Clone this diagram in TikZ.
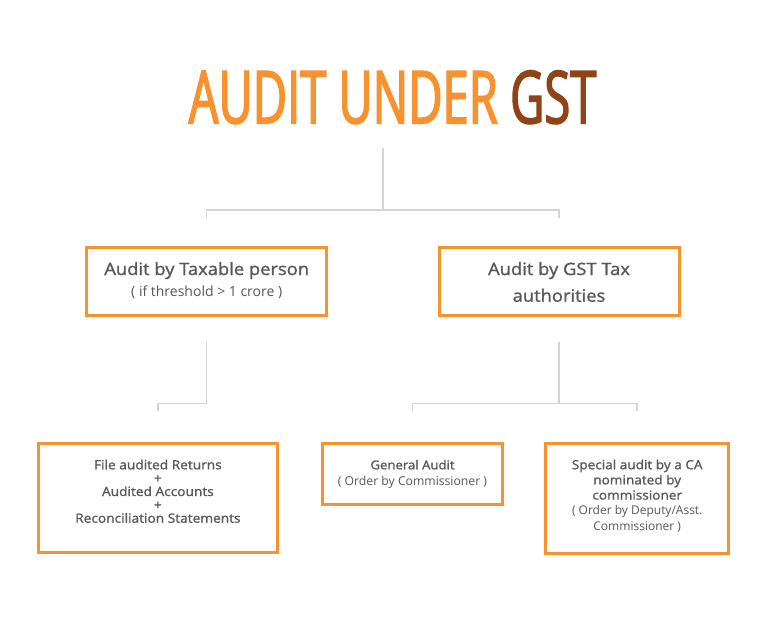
\documentclass[tikz,border=0pt]{standalone}
\usepackage{fontspec}
\setmainfont{Open Sans}
\newfontfamily\semib[FakeBold=1.2,FakeStretch=1.08]{Open Sans}
\newfontfamily\titlefont[FakeStretch=0.645,FakeBold=2]{Open Sans}
\usetikzlibrary{calc}
\definecolor{ttlorange}{HTML}{F7922F}
\definecolor{ttlbrown}{HTML}{8E4414}
\definecolor{boxorange}{HTML}{F7922F}
\definecolor{txtgray}{HTML}{575757}
\definecolor{linegray}{HTML}{D4D4D4}
\begin{document}
\begin{tikzpicture}[x=1pt,y=-1pt,
  box/.style={draw=boxorange,line width=3pt,fill=white,rectangle,inner sep=0pt},
  conn/.style={draw=linegray,line width=1.5pt},
  txt/.style={text=txtgray,inner sep=0pt,align=center}]
\fill[white] (0,0) rectangle (768,624);
\useasboundingbox (0,0) rectangle (768,624);
% title
\node[anchor=base,inner sep=0pt] (title) at (392.5,123.3)
  {\titlefont\fontsize{73}{73}\selectfont\textcolor{ttlorange}{AUDIT UNDER }\textcolor{ttlbrown}{GST}};
% boxes
\node[box,minimum width=240pt,minimum height=68pt] (b1) at (206.7,281.3) {};
\node[box,minimum width=240pt,minimum height=68pt] (b2) at (559,281.3) {};
\node[box,minimum width=239pt,minimum height=109pt] (b3) at (157.9,497.9) {};
\node[box,minimum width=180pt,minimum height=61pt] (b4) at (412.5,473.9) {};
\node[box,minimum width=183pt,minimum height=110pt] (b5) at (637.2,498.6) {};
% texts (base anchor = baseline of the last line)
\node[txt,anchor=base,font=\fontsize{14}{21}\selectfont] (t1) at (206.7,296)
  {{\semib\fontsize{17}{21}\selectfont Audit by Taxable person}\\( if threshold > 1 crore )};
\node[txt,anchor=base,font=\semib\fontsize{17}{26.7}\selectfont] (t2) at (559,301.7)
  {Audit by GST Tax\\authorities};
\node[txt,anchor=base,font=\semib\fontsize{12.7}{13.35}\selectfont] (t3) at (157.9,522.7)
  {File audited Returns\\+\\Audited Accounts\\+\\Reconciliation Statements};
\node[txt,anchor=base,font=\fontsize{12.2}{15.7}\selectfont] (t4) at (412.5,485)
  {{\semib\fontsize{12.2}{15.7}\selectfont General Audit}\\( Order by Commissioner )};
\node[txt,anchor=base,font=\fontsize{12}{15.2}\selectfont] (t5) at (637.2,530)
  {{\semib\fontsize{12.6}{15.2}\selectfont Special audit by a CA}\\{\semib\fontsize{12.6}{15.2}\selectfont nominated by}\\{\semib\fontsize{12.6}{15.2}\selectfont commissioner}\\( Order by Deputy/Asst.\\Commissioner )};
% connectors
\coordinate (top) at (383,148);
\coordinate (j1) at (383,210);
\draw[conn] (top) -- (j1);
\draw[conn] ($(b1.north)+(0,-27.5)$) |- (j1) -| ($(b2.north)+(0,-27.5)$);
\coordinate (j2) at ($(b1.south)+(0,86.8)$);
\draw[conn] ($(b1.south)+(0,24.8)$) -- (j2) -| ($(b3.north)+(0,-31.2)$);
\coordinate (j3) at ($(b2.south)+(0,86.8)$);
\draw[conn] ($(b2.south)+(0,24.8)$) -- (j3);
\draw[conn] ($(b4.north)+(0,-31.2)$) |- (j3) -| ($(b5.north)+(0,-31.2)$);
\end{tikzpicture}
\end{document}
